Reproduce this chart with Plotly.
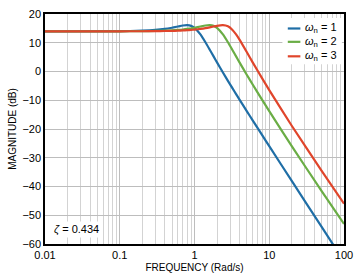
import plotly.graph_objects as go

freq = [0.01, 0.1, 0.2, 0.3, 0.4, 0.5, 0.6, 0.7, 0.8, 0.9, 1.0, 1.2, 1.4, 1.6, 1.8,
        2.0, 2.4, 2.8, 3.2, 3.6, 4, 5, 6, 8, 10, 20, 50, 100]

mag_wn1 = [13.98, 14.03, 14.20, 14.46, 14.81, 15.23, 15.65, 15.99, 16.11, 15.88, 15.21,
           12.91, 10.18, 7.58, 5.25, 3.18, -0.33, -3.24, -5.71, -7.86, -9.77, -13.76,
           -17.00, -22.06, -25.97, -38.05, -53.98, -66.02]
mag_wn2 = [13.98, 13.99, 14.03, 14.10, 14.20, 14.31, 14.46, 14.62, 14.81, 15.01, 15.23,
           15.65, 15.99, 16.11, 15.88, 15.21, 12.91, 10.18, 7.58, 5.25, 3.18, -1.11,
           -4.52, -9.77, -13.76, -25.97, -41.5, -53.0]
mag_wn3 = [13.98, 13.99, 14.00, 14.03, 14.08, 14.13, 14.20, 14.27, 14.36, 14.46, 14.57,
           14.81, 15.08, 15.37, 15.65, 15.90, 16.11, 15.70, 14.55, 12.91, 11.09, 6.78,
           3.18, -2.32, -6.46, -18.86, -34.5, -46.0]

series_names = ["<i>ω</i><sub>n</sub> = 1", "<i>ω</i><sub>n</sub> = 2", "<i>ω</i><sub>n</sub> = 3"]
series_vals = [mag_wn1, mag_wn2, mag_wn3]
colors = ["#1f6ea6", "#6aad45", "#e0452b"]

x_tickvals = [0.01, 0.1, 1, 10, 100]
x_ticktext = ["0.01", "0.1", "1", "10", "100"]

fig = go.Figure()
for name, vals, c in zip(series_names, series_vals, colors):
    fig.add_trace(go.Scatter(x=freq, y=vals, mode="lines", name=name, showlegend=False,
                             line=dict(color=c, width=2.2, shape="spline", smoothing=0.6)))

font = dict(family="Liberation Sans, Arial, sans-serif", size=11, color="#000000")

# manual legend (compact line samples like the reference)
shapes = [dict(type="rect", xref="paper", yref="paper", x0=0.794, x1=0.993, y0=0.782, y1=0.983,
               fillcolor="white", line=dict(width=0), layer="above")]
annotations = []
row_y = [0.937, 0.879, 0.816]
for name, c, yy in zip(series_names, colors, row_y):
    shapes.append(dict(type="line", xref="paper", yref="paper", x0=0.812, x1=0.854, y0=yy, y1=yy,
                       line=dict(color=c, width=2.2), layer="above"))
    annotations.append(dict(text=name, xref="paper", yref="paper", x=0.862, y=yy,
                            xanchor="left", yanchor="middle", showarrow=False,
                            font=dict(size=11)))

annotations.append(dict(text="<i>ζ</i> = 0.434", xref="paper", yref="paper",
                        x=0.105, y=0.065, xanchor="center", yanchor="middle",
                        showarrow=False, bgcolor="white", font=dict(size=11)))

fig.update_layout(
    width=361, height=280,
    margin=dict(l=45, r=15, t=8, b=33),
    paper_bgcolor="white", plot_bgcolor="white",
    font=font,
    showlegend=False,
    xaxis=dict(type="log", range=[-2, 2], tickvals=x_tickvals, ticktext=x_ticktext,
               showgrid=True, gridcolor="#bdbdbd", gridwidth=1,
               minor=dict(showgrid=True, gridcolor="#d3d3d3", gridwidth=1, dtick="D1"),
               showline=True, linecolor="black", linewidth=1.5, mirror=True,
               ticks="", zeroline=False,
               title=dict(text="FREQUENCY (Rad/s)", standoff=4, font=dict(size=10))),
    yaxis=dict(range=[-60, 20], dtick=10, showgrid=True, gridcolor="#bdbdbd", gridwidth=1,
               showline=True, linecolor="black", linewidth=1.5, mirror=True,
               ticks="", zeroline=False,
               title=dict(text="MAGNITUDE (dB)", standoff=4, font=dict(size=10))),
    shapes=shapes,
    annotations=annotations,
)

fig.write_html("out.html")
